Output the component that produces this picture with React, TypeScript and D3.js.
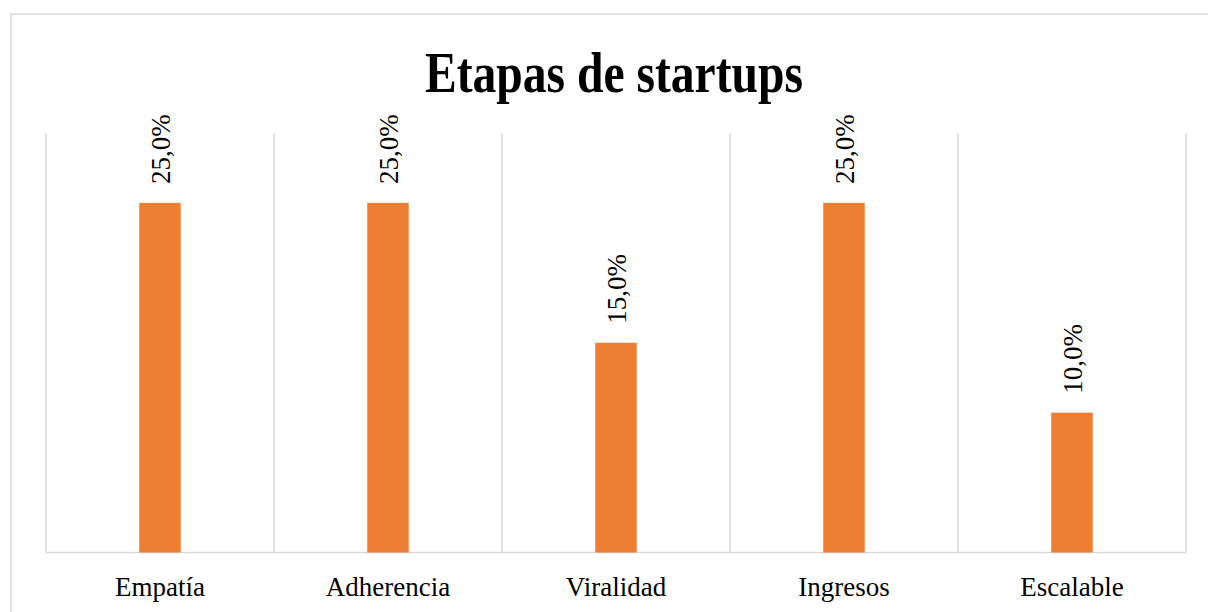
import React from "react";
import * as d3 from "d3";

const categories = ["Empatía", "Adherencia", "Viralidad", "Ingresos", "Escalable"];
const values = [0.25, 0.25, 0.15, 0.25, 0.1];
const valueLabels = ["25,0%", "25,0%", "15,0%", "25,0%", "10,0%"];
const title = "Etapas de startups";

const W = 1208;
const H = 612;
const FONT = "'Liberation Serif', 'Times New Roman', serif";

export default function App() {
  const x = d3.scaleBand<string>().domain(categories).range([46, 1186]).paddingInner(0).paddingOuter(0);
  const y = d3.scaleLinear().domain([0, 0.3]).range([552.5, 133]);
  const bw = x.bandwidth() * 0.182;
  const grid = [...categories.map((c) => x(c) as number), x.range()[1]];

  return (
    <svg
      width={W}
      height={H}
      style={{ position: "absolute", left: 0, top: 0, background: "#fff" }}
    >
      <rect x={0} y={0} width={W} height={H} fill="#fff" />
      <rect x={11} y={14} width={W + 20} height={H + 20} fill="none" stroke="#d9d9d9" strokeWidth={1.5} />
      <text
        x={614}
        y={91.5}
        textAnchor="middle"
        fontFamily={FONT}
        fontWeight="bold"
        fontSize={56}
        textLength={378}
        lengthAdjust="spacingAndGlyphs"
        fill="#000"
      >
        {title}
      </text>
      {grid.map((gx, i) => (
        <line key={i} x1={gx} x2={gx} y1={y(0.3)} y2={y(0)} stroke="#d9d9d9" strokeWidth={1.5} />
      ))}
      <line x1={x.range()[0]} x2={x.range()[1]} y1={y(0)} y2={y(0)} stroke="#d9d9d9" strokeWidth={1.5} />
      {categories.map((c, i) => {
        const cx = (x(c) as number) + x.bandwidth() / 2;
        return (
          <g key={c}>
            <rect x={cx - bw / 2} y={y(values[i])} width={bw} height={y(0) - y(values[i])} fill="#ED7D31" />
            <text
              transform={`translate(${cx + 10},${y(values[i]) - 19}) rotate(-90)`}
              fontFamily={FONT}
              fontSize={27}
              fill="#000"
            >
              {valueLabels[i]}
            </text>
            <text x={cx} y={596} textAnchor="middle" fontFamily={FONT} fontSize={27} fill="#000">
              {c}
            </text>
          </g>
        );
      })}
    </svg>
  );
}
